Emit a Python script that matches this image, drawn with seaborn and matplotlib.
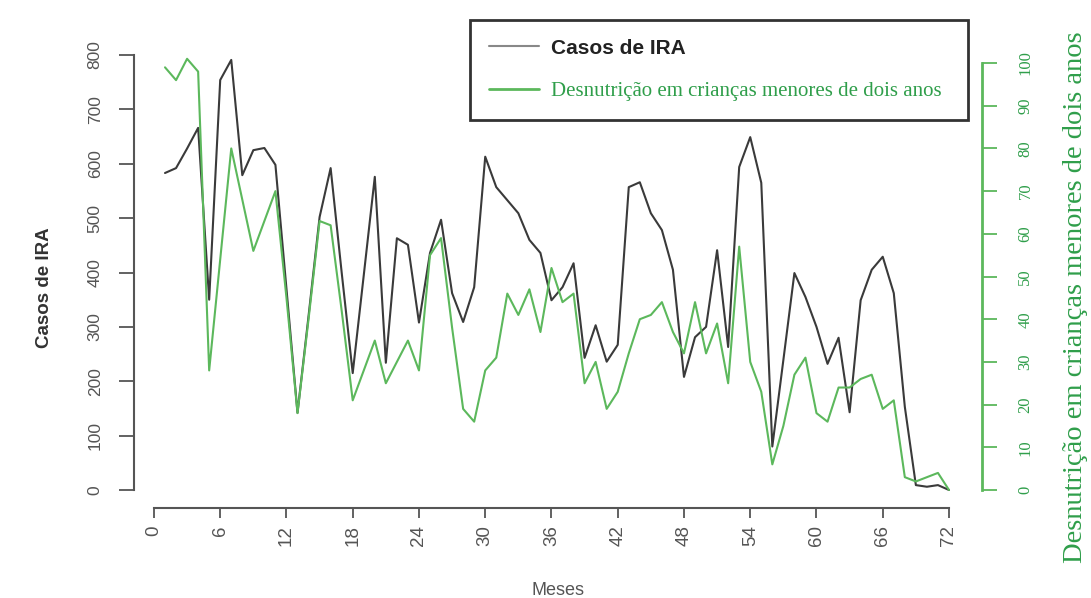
import matplotlib
matplotlib.use("Agg")
import matplotlib.pyplot as plt
from matplotlib.lines import Line2D
import numpy as np
import pandas as pd
import seaborn as sns

meses = list(range(1, 73))
casos_ira = [583, 592, 628, 666, 350, 754, 791, 579, 625, 629, 598, 370,
             142, 320, 502, 592, 400, 215, 395, 576, 234, 463, 451, 308,
             436, 497, 362, 309, 373, 613, 557, 533, 509, 460, 436, 349,
             373, 417, 243, 303, 236, 267, 557, 566, 509, 478, 405, 208,
             281, 300, 441, 263, 594, 649, 565, 80, 239, 399, 355, 300,
             232, 280, 143, 349, 405, 429, 362, 153, 9, 6, 9, 0]
desnutricao = [99, 96, 101, 98, 28, 54, 80, 68, 56, 63, 70, 45,
               18, 40, 63, 62, 42, 21, 28, 35, 25, 30, 35, 28,
               55, 59, 38, 19, 16, 28, 31, 46, 41, 47, 37, 52,
               44, 46, 25, 30, 19, 23, 32, 40, 41, 44, 37, 32,
               44, 32, 39, 25, 57, 30, 23, 6, 15, 27, 31, 18,
               16, 24, 24, 26, 27, 19, 21, 3, 2, 3, 4, 0]
xticks = list(range(0, 73, 6))
yticks_left = list(range(0, 801, 100))
yticks_right = list(range(0, 101, 10))

lbl_ira = "Casos de IRA"
lbl_desn = "Desnutrição em crianças menores de dois anos"

df = pd.DataFrame({"Meses": meses, "casos": casos_ira, "desn": desnutricao})

sns.set_style("white")
plt.rcParams["font.family"] = ["Liberation Sans", "DejaVu Sans"]

black = "#3a3a3a"
green = "#5cb85c"
green_txt = "#2f9e4a"
grey = "#555555"

fig = plt.figure(figsize=(10.91, 5.98), dpi=100)
ax = fig.add_axes([0.1228, 0.1505, 0.7773, 0.7826])
ax2 = ax.twinx()

sns.lineplot(data=df, x="Meses", y="casos", ax=ax, color=black, linewidth=1.5)
sns.lineplot(data=df, x="Meses", y="desn", ax=ax2, color=green, linewidth=1.5)

ax.set_xlim(-1.81, 74.99)
ax.set_ylim(-33.1, 827.6)
ax2.set_ylim(-4.22, 105.4)

for a in (ax, ax2):
    a.spines["top"].set_visible(False)
ax.spines["right"].set_visible(False)
ax2.spines["left"].set_visible(False)
ax2.spines["bottom"].set_visible(False)

ax.spines["left"].set_bounds(0, 800)
ax.spines["bottom"].set_bounds(0, 72)
ax2.spines["right"].set_bounds(0, 100)
ax.spines["left"].set_color(grey)
ax.spines["bottom"].set_color(grey)
ax2.spines["right"].set_color(green)
for s in ("left", "bottom"):
    ax.spines[s].set_linewidth(1.5)
ax2.spines["right"].set_linewidth(2)

ax.set_xticks(xticks)
ax.set_xticklabels([str(t) for t in xticks], rotation=90, fontsize=13.5, color=grey)
ax.set_yticks(yticks_left)
ax.set_yticklabels([str(t) for t in yticks_left], rotation=90, va="center",
                   fontsize=12.5, color=grey)
ax2.set_yticks(yticks_right)
ax2.set_yticklabels([str(t) for t in yticks_right], rotation=90, va="center",
                    fontsize=12, color=green_txt, family="Liberation Serif")
ax.tick_params(axis="x", direction="out", length=7.5, width=1.3, color=grey,
               bottom=True, pad=5)
ax.tick_params(axis="y", direction="out", length=10.5, width=1.3, color=grey,
               left=True, pad=12)
ax2.tick_params(axis="y", direction="out", length=10.5, width=1.3, color=green,
                right=True, pad=15)

ax.set_xlabel("Meses", fontsize=13, color=grey, labelpad=26)
ax.set_ylabel(lbl_ira, fontsize=13.5, fontweight="bold", color="#333333")
ax.yaxis.set_label_coords(-0.095, 0.47)
ax2.set_ylabel(lbl_desn, fontsize=20.5, color=green_txt, family="Liberation Serif")
ax2.yaxis.set_label_coords(1.095, 0.45)

handles = [Line2D([], [], color="#888888", lw=1.5),
           Line2D([], [], color=green, lw=2)]
leg = ax.legend(handles, [lbl_ira, lbl_desn], loc="upper left",
                bbox_to_anchor=(470 / 1091, 1 - 20 / 598 - 0.01, 498 / 1091, 0.01),
                bbox_transform=fig.transFigure, mode="expand", borderaxespad=0,
                frameon=True, fancybox=False, handlelength=2.4, handletextpad=0.6,
                borderpad=0.9, labelspacing=1.15, fontsize=15)
leg.get_frame().set_edgecolor("black")
leg.get_frame().set_linewidth(2)
t1, t2 = leg.get_texts()
t1.set_fontweight("bold")
t1.set_color("#222222")
t2.set_family("Liberation Serif")
t2.set_color(green_txt)

fig.savefig("out.png", dpi=100)
